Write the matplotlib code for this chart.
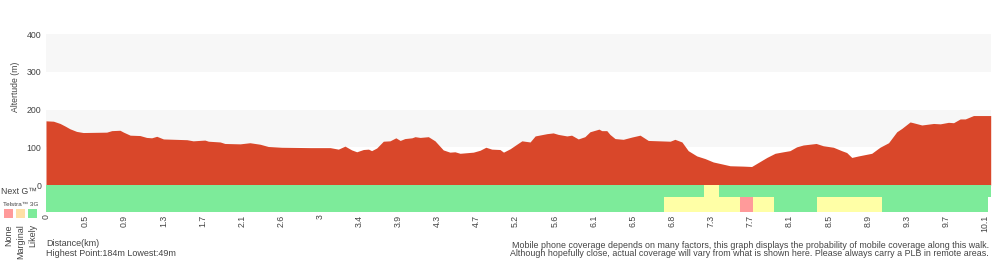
import matplotlib
matplotlib.use("Agg")
import matplotlib.pyplot as plt

# ---------------- data ----------------
tick_labels = ["0", "0.5", "0.9", "1.3", "1.7", "2.1", "2.6", "3", "3.4", "3.9", "4.3",
               "4.7", "5.2", "5.6", "6.1", "6.5", "6.8", "7.3", "7.7", "8.1", "8.5",
               "8.9", "9.3", "9.7", "10.1"]

# profile position (in tick-index units) and altitude (m)
pos = [0.00, 0.19, 0.36, 0.49, 0.61, 0.78, 0.95, 1.55, 1.68, 1.89, 1.98, 2.15, 2.40,
       2.57, 2.70, 2.83, 3.00, 3.60, 3.76, 4.06, 4.15, 4.45, 4.57, 4.96, 5.21, 5.47,
       5.68, 6.02, 6.75, 7.26, 7.47, 7.64, 7.81, 7.94, 8.11, 8.24, 8.32, 8.45, 8.62,
       8.79, 8.94, 9.05, 9.17, 9.35, 9.43, 9.56, 9.77, 9.94, 10.15, 10.32, 10.45,
       10.58, 10.92, 11.09, 11.24, 11.39, 11.60, 11.69, 11.86, 12.03, 12.16, 12.37,
       12.50, 12.80, 12.96, 13.09, 13.31, 13.43, 13.60, 13.77, 13.90, 14.13, 14.20,
       14.33, 14.41, 14.54, 14.75, 14.97, 15.18, 15.39, 15.95, 16.07, 16.25, 16.41,
       16.63, 16.84, 17.05, 17.31, 17.48, 17.82, 18.03, 18.16, 18.42, 18.63, 18.84,
       19.01, 19.18, 19.35, 19.68, 19.86, 20.12, 20.33, 20.46, 20.59, 20.76, 21.10,
       21.31, 21.53, 21.74, 21.87, 22.08, 22.16, 22.38, 22.68, 22.85, 23.06, 23.19,
       23.36, 23.49, 23.70, 24.14]
altitude = [170, 169, 163, 156, 149, 142, 139, 140, 144, 145, 140, 132, 131,
            126, 125, 129, 122, 120, 117, 119, 116, 114, 110, 109, 112, 108,
            102, 100, 99, 99, 95, 103, 93, 88, 94, 95, 91, 98, 116,
            117, 125, 118, 123, 125, 128, 126, 128, 117, 93, 87, 88,
            84, 87, 92, 100, 95, 94, 87, 96, 108, 117, 114,
            130, 136, 138, 134, 130, 132, 122, 128, 141, 148, 144,
            144, 134, 123, 121, 127, 132, 118, 116, 121, 114, 91,
            77, 70, 61, 55, 51, 50, 49, 57, 73, 84, 88,
            91, 101, 106, 110, 104, 100, 91, 86, 73, 77, 84,
            100, 112, 141, 150, 167, 165, 159, 163, 162, 166, 165,
            175, 175, 184, 184]

# coverage segments: boundaries (tick-index units) and level per segment
nextg_edges = [0.00, 16.82, 17.20, 24.14]
nextg_level = ["Likely", "Marginal", "Likely"]
g3_edges = [0.00, 15.79, 17.74, 18.07, 18.60, 19.70, 21.36, 24.07]
g3_level = ["Likely", "Marginal", "None", "Marginal", "Likely", "Marginal", "Likely"]

y_ticks = [0, 100, 200, 300, 400]

# ---------------- style ----------------
FONT = "Liberation Sans"
TXT = "#444444"
FILL = "#d9472a"
BAND = "#f7f7f7"
cov_colors = {"None": "#ff9a9a", "Marginal": "#ffffa6", "Likely": "#7deb9a"}
legend_colors = ["#ff9a9a", "#ffe0a6", "#7deb9a"]
legend_names = ["None", "Marginal", "Likely"]

plt.rcParams["font.family"] = [FONT, "DejaVu Sans"]

fig = plt.figure(figsize=(10, 2.6), dpi=100)
ax_l, ax_r = 46 / 1000, 990.7 / 1000
ax_t, ax_b = 1 - 34 / 260, 1 - 211.7 / 260
ax = fig.add_axes([ax_l, ax_b, ax_r - ax_l, ax_t - ax_b])

row1 = -31.8
row2 = -70.7
xmax = pos[-1]
ax.set_xlim(0, xmax)
ax.set_ylim(row2, 400)

ax.axhspan(300, 400, color=BAND, lw=0, zorder=0)
ax.axhspan(100, 200, color=BAND, lw=0, zorder=0)

ax.fill_between(pos, altitude, 0, color=FILL, lw=0, zorder=2)

def draw_row(edges, levels, y0, y1):
    for i, lev in enumerate(levels):
        ax.fill_between([edges[i], edges[i + 1]], [y0, y0], [y1, y1],
                        color=cov_colors[lev], lw=0, zorder=2)

draw_row(nextg_edges, nextg_level, row1, 0)
draw_row(g3_edges, g3_level, row2, row1)

for s in ax.spines.values():
    s.set_visible(False)

ax.set_yticks(y_ticks)
ax.set_yticklabels([str(v) for v in y_ticks])
ax.set_xticks(range(len(tick_labels)))
ax.set_xticklabels(tick_labels, rotation=90, va="top", ha="center")
ax.tick_params(axis="both", length=0, labelsize=6.3, labelcolor=TXT)
ax.tick_params(axis="y", pad=3.5)
ax.tick_params(axis="x", pad=2.0)

def ftxt(x, y, s, **kw):
    fig.text(x / 1000, 1 - y / 260, s, color=TXT, **kw)

ftxt(16, 87, "Altertude (m)", rotation=90, ha="center", va="center", fontsize=6.2)
ftxt(1, 192, "Next G™", ha="left", va="center", fontsize=6.3)
ftxt(3, 204, "Telstra™ 3G", ha="left", va="center", fontsize=4.6)

for i, (c, name) in enumerate(zip(legend_colors, legend_names)):
    x0 = 4 + 12 * i
    fig.patches.append(plt.Rectangle((x0 / 1000, 1 - 218 / 260), 9 / 1000, 9 / 260,
                                     transform=fig.transFigure, color=c, lw=0))
    ftxt(x0 + 4.5, 224, name, rotation=90, ha="center", va="top", fontsize=6.5)

ftxt(46, 244, "Distance(km)", ha="left", va="center", fontsize=6.5)
ftxt(46, 253, "Highest Point:184m Lowest:49m", ha="left", va="center", fontsize=6.5)
ftxt(989, 245, "Mobile phone coverage depends on many factors, this graph displays the probability of mobile coverage along this walk.",
     ha="right", va="center", fontsize=6.4)
ftxt(989, 254, "Although hopefully close, actual coverage will vary from what is shown here. Please always carry a PLB in remote areas.",
     ha="right", va="center", fontsize=6.4)

fig.savefig("out.png", dpi=100)
